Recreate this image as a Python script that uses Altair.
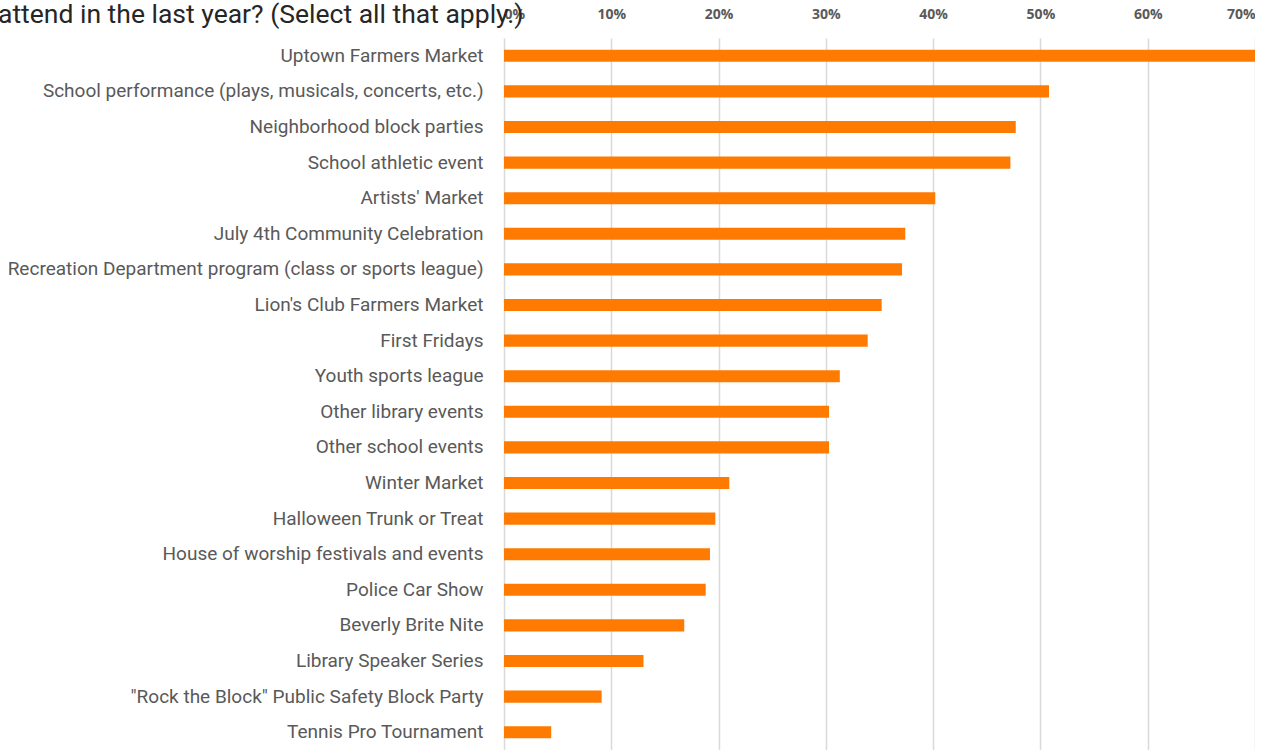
import altair as alt
import pandas as pd

categories = [
    "Uptown Farmers Market",
    "School performance (plays, musicals, concerts, etc.)",
    "Neighborhood block parties",
    "School athletic event",
    "Artists' Market",
    "July 4th Community Celebration",
    "Recreation Department program (class or sports league)",
    "Lion's Club Farmers Market",
    "First Fridays",
    "Youth sports league",
    "Other library events",
    "Other school events",
    "Winter Market",
    "Halloween Trunk or Treat",
    "House of worship festivals and events",
    "Police Car Show",
    "Beverly Brite Nite",
    "Library Speaker Series",
    "\"Rock the Block\" Public Safety Block Party",
    "Tennis Pro Tournament",
]
values = [0.700, 0.508, 0.477, 0.472, 0.402, 0.374, 0.371, 0.352, 0.339, 0.313,
          0.303, 0.303, 0.210, 0.197, 0.192, 0.188, 0.168, 0.130, 0.091, 0.044]
tick_values = [0, 0.1, 0.2, 0.3, 0.4, 0.5, 0.6, 0.7]
title_text = ["attend in the last year? (Select all that apply.)"]

df = pd.DataFrame({"event": categories, "share": values})
title_df = pd.DataFrame({"label": title_text})

bars = alt.Chart(df).mark_bar(color="#FF7A00").encode(
    x=alt.X(
        "share:Q",
        scale=alt.Scale(domain=[0, 0.7], nice=False),
        axis=alt.Axis(
            orient="top",
            format=".0%",
            values=tick_values,
            title=None,
            domain=False,
            ticks=False,
            grid=True,
            gridColor="#D9D9D9",
            gridWidth=1.5,
            labelFont="Open Sans",
            labelFontWeight="bold",
            labelFontSize=14,
            labelColor="#595959",
            labelPadding=17,
        ),
    ),
    y=alt.Y(
        "event:N",
        sort=categories,
        scale=alt.Scale(paddingInner=0.66, paddingOuter=0.33),
        axis=alt.Axis(
            title=None,
            domain=False,
            ticks=False,
            grid=False,
            labelFont="Roboto",
            labelFontSize=19,
            labelFontWeight="normal",
            labelColor="#595959",
            labelPadding=21,
            labelLimit=600,
        ),
    ),
)

title = alt.Chart(title_df).mark_text(
    align="left",
    baseline="middle",
    font="Roboto",
    fontSize=26.5,
    fontWeight="normal",
    color="#262626",
).encode(text="label:N", x=alt.value(-506), y=alt.value(-23))

chart = alt.layer(bars, title).properties(
    width=751,
    height=712,
    autosize=alt.AutoSizeParams(type="none"),
    padding={"left": 504, "top": 38, "right": 0, "bottom": 0},
).configure_view(stroke=None)

chart.save("out.html", embed_options={"renderer": "svg", "actions": False})
